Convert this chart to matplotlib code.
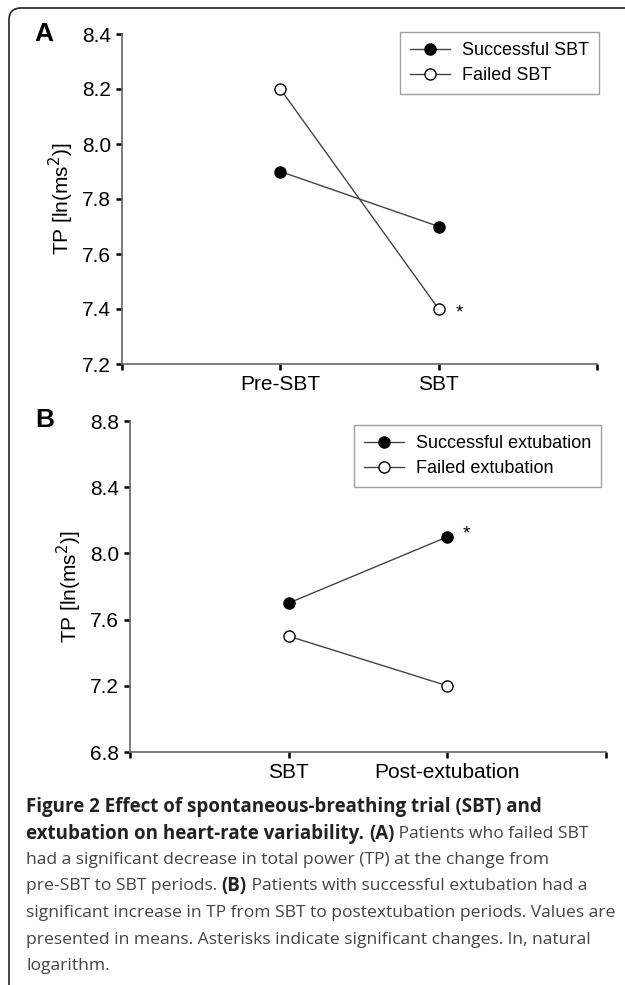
import matplotlib
matplotlib.use("Agg")
import matplotlib.pyplot as plt
from matplotlib.patches import FancyBboxPatch
from matplotlib.transforms import IdentityTransform

# -----------------------
# Data
# -----------------------
periods_a = ["Pre-SBT", "SBT"]
success_sbt = [7.9, 7.7]
failed_sbt = [8.2, 7.4]

periods_b = ["SBT", "Post-extubation"]
success_ext = [7.7, 8.1]
failed_ext = [7.5, 7.2]

yticks_a = [7.2, 7.4, 7.6, 7.8, 8.0, 8.2, 8.4]
yticks_b = [6.8, 7.2, 7.6, 8.0, 8.4, 8.8]

W, H = 625, 985
plt.rcParams['font.family'] = ['Liberation Sans', 'DejaVu Sans']
fig = plt.figure(figsize=(W / 100, H / 100), dpi=100)

def px_axes(left, top, right, bottom):
    return fig.add_axes([left / W, 1 - bottom / H, (right - left) / W, (bottom - top) / H])

def style_axes(ax, yticks, labels):
    x = [1, 2]
    ax.set_xlim(0, 3)
    ax.set_ylim(yticks[0], yticks[-1])
    ax.set_xticks([0, 1, 2, 3])
    ax.set_xticklabels([""] + labels + [""])
    ax.set_yticks(yticks)
    ax.set_yticklabels([f"{v:.1f}" for v in yticks])
    for s in ["top", "right"]:
        ax.spines[s].set_visible(False)
    for s in ["left", "bottom"]:
        ax.spines[s].set_color("#666666")
        ax.spines[s].set_linewidth(1.2)
    ax.tick_params(direction="out", length=4, width=1.8, color="black",
                   labelsize=15, pad=4)
    ax.set_ylabel("TP [ln(ms$^2$)]", fontsize=15, labelpad=4)
    return x

def draw_series(ax, x, vals, filled, label):
    ax.plot(x, vals, color="#444444", lw=1.0, marker="o", ms=8,
            mfc="black" if filled else "white", mec="black", mew=1.0,
            label=label, clip_on=False, zorder=3)

def add_legend(ax, left, top):
    leg = ax.legend(loc="upper left", bbox_to_anchor=(left / W, 1 - top / H),
                    bbox_transform=fig.transFigure, borderaxespad=0, fancybox=False,
                    edgecolor="#888888", fontsize=13, handlelength=2.2,
                    handletextpad=0.7, borderpad=0.55, labelspacing=0.45)
    leg.get_frame().set_linewidth(1.0)
    return leg

# -----------------------
# Panel A
# -----------------------
ax_a = px_axes(122, 34, 597, 364)
x = style_axes(ax_a, yticks_a, periods_a)
draw_series(ax_a, x, success_sbt, True, "Successful SBT")
draw_series(ax_a, x, failed_sbt, False, "Failed SBT")
ax_a.annotate("*", (x[1], failed_sbt[1]), xytext=(12, -3), textcoords="offset points",
              fontsize=14, ha="left", va="center")
add_legend(ax_a, 400, 32)
fig.text(34 / W, 1 - 34 / H, "A", fontsize=19, fontweight="bold", va="center")

# -----------------------
# Panel B
# -----------------------
ax_b = px_axes(130, 421, 606, 752)
x = style_axes(ax_b, yticks_b, periods_b)
draw_series(ax_b, x, success_ext, True, "Successful extubation")
draw_series(ax_b, x, failed_ext, False, "Failed extubation")
ax_b.annotate("*", (x[1], success_ext[1]), xytext=(11, 2), textcoords="offset points",
              fontsize=14, ha="left", va="center")
add_legend(ax_b, 354, 425)
fig.text(35 / W, 1 - 420 / H, "B", fontsize=19, fontweight="bold", va="center")

# -----------------------
# Frame (pixel coords, origin bottom-left)
# -----------------------
frame = FancyBboxPatch((9, -12), 680, H - 8 + 12,
                       boxstyle="round,pad=0,rounding_size=12",
                       transform=IdentityTransform(), fill=False, edgecolor="#222222",
                       lw=1.2)
fig.patches.append(frame)

# -----------------------
# Caption
# -----------------------
cap_lines = [
    [("Figure 2 Effect of spontaneous-breathing trial (SBT) and", True)],
    [("extubation on heart-rate variability. ", True), ("(A)", True),
     (" Patients who failed SBT", False)],
    [("had a significant decrease in total power (TP) at the change from", False)],
    [("pre-SBT to SBT periods. ", False), ("(B)", True),
     (" Patients with successful extubation had a", False)],
    [("significant increase in TP from SBT to postextubation periods. Values are", False)],
    [("presented in means. Asterisks indicate significant changes. ln, natural", False)],
    [("logarithm.", False)],
]
renderer = fig.canvas.get_renderer()
y0 = 807
for i, parts in enumerate(cap_lines):
    xpos = 26
    ypos = y0 + i * 26.5
    for txt, bold in parts:
        t = fig.text(xpos / W, 1 - ypos / H, txt, fontsize=13.5 if bold else 12.6,
                     family=["Open Sans", "DejaVu Sans"],
                     fontweight="bold" if bold else "normal",
                     color="#222222" if bold else "#444444", va="center", ha="left")
        bb = t.get_window_extent(renderer=renderer)
        xpos += bb.width

fig.savefig("out.png", dpi=100)
